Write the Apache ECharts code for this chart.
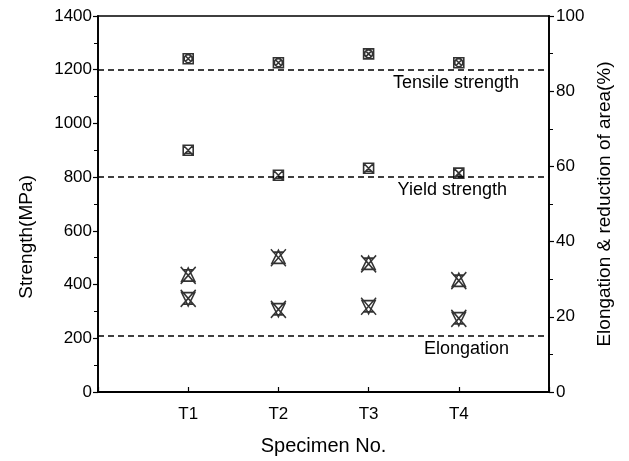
<!DOCTYPE html>
<html>
<head>
<meta charset="utf-8">
<script src="https://cdn.jsdelivr.net/npm/echarts@6/dist/echarts.min.js"></script>
<style>
  html, body { margin: 0; padding: 0; background: #fff; }
  #main { width: 629px; height: 461px; }
</style>
</head>
<body>
<div id="main"></div>
<script>
'use strict'

// specimen labels (x positions 1..4)
var specimens = ['T1', 'T2', 'T3', 'T4']
// strength, MPa (left axis)
var tensileStrength = [1241, 1226, 1259, 1226]
var yieldStrength = [900, 807, 833, 815]
// percent (right axis)
var reductionOfArea = [31.0, 35.7, 34.1, 29.6]
var elongation = [24.9, 22.0, 22.8, 19.6]
// reference (dashed) levels
var tensileRef = 1200
var yieldRef = 800
var elongationRef = 15

var leftTicks = [0, 200, 400, 600, 800, 1000, 1200, 1400]
var rightTicks = [0, 20, 40, 60, 80, 100]

function toPoints(arr) {
	return arr.map(function (v, i) { return [i + 1, v] })
}

var FONT = '"Liberation Sans", Arial, sans-serif'

// marker shapes
var symTensile = 'path://M0 0L10 0L10 10L0 10Z M5 1A4 4 0 1 1 4.99 1Z M2 2L8 8 M8 2L2 8'
var symYield = 'path://M0 0L10 0L10 10L0 10Z M1 1L9 9 M9 1L1 9 M2 8L8 8L5 5Z'
var symUpper = 'path://M0 0L16 18 M16 0L0 18 M8 1L15 15L1 15Z M2 3L14 3'
var symLower = 'path://M0 0L16 18 M16 0L0 18 M1 3L15 3L8 17Z M2 15L14 15'

var markerStyle = { color: 'rgba(0,0,0,0)', borderColor: '#000', borderWidth: 1.6 }

function refLabel(text, padRight) {
	return {
		show: true,
		formatter: text,
		position: 'insideEndBottom',
		distance: 4,
		padding: [0, padRight, 0, 0],
		color: '#000',
		fontFamily: FONT,
		fontSize: 18
	}
}

var myChart = echarts.init(document.getElementById('main'))
var option = {
	backgroundColor: '#fff',
	animation: false,
	grid: { left: 98, right: 80, top: 16, bottom: 67, show: true, borderColor: '#000', borderWidth: 1.5 },
	xAxis: {
		type: 'value', min: 0, max: 5, interval: 1,
		name: 'Specimen No.', nameLocation: 'middle', nameGap: 44,
		nameTextStyle: { fontFamily: FONT, fontSize: 20, color: '#000' },
		axisLine: { lineStyle: { color: '#000', width: 1.8 } },
		axisTick: { inside: true, length: 5, lineStyle: { color: '#000', width: 1.2 } },
		axisLabel: {
			margin: 14, fontFamily: FONT, fontSize: 17, color: '#000',
			formatter: function (v) { return specimens[v - 1] || '' }
		},
		splitLine: { show: false }
	},
	yAxis: [{
		type: 'value', min: leftTicks[0], max: leftTicks[leftTicks.length - 1], interval: 200,
		name: 'Strength(MPa)', nameLocation: 'middle', nameGap: 62, nameRotate: 90,
		nameTextStyle: { fontFamily: FONT, fontSize: 19, color: '#000', padding: [0, 66, 0, 0] },
		axisLine: { show: true, lineStyle: { color: '#000', width: 1.8 } },
		axisTick: { length: 5, lineStyle: { color: '#000', width: 1.2 } },
		minorTick: { show: true, splitNumber: 2, length: 4, lineStyle: { color: '#000' } },
		axisLabel: { margin: 6, fontFamily: FONT, fontSize: 17, color: '#000', formatter: function (v) { return String(v) } },
		splitLine: { show: false }
	}, {
		type: 'value', position: 'right', min: rightTicks[0], max: rightTicks[rightTicks.length - 1], interval: 20,
		name: 'Elongation & reduction of area(%)', nameLocation: 'middle', nameGap: 42, nameRotate: 90,
		nameTextStyle: { fontFamily: FONT, fontSize: 19, color: '#000' },
		axisLine: { show: true, lineStyle: { color: '#000', width: 1.8 } },
		axisTick: { length: 5, lineStyle: { color: '#000', width: 1.2 } },
		minorTick: { show: true, splitNumber: 2, length: 4, lineStyle: { color: '#000' } },
		axisLabel: { margin: 7, fontFamily: FONT, fontSize: 17, color: '#000', formatter: function (v) { return String(v) } },
		splitLine: { show: false }
	}],
	series: [{
		name: 'Tensile strength', type: 'scatter', yAxisIndex: 0,
		symbol: symTensile, symbolSize: [10, 10], itemStyle: markerStyle,
		data: toPoints(tensileStrength),
		markLine: {
			silent: true, symbol: 'none',
			lineStyle: { color: '#000', type: [6, 4], width: 1.6 },
			data: [
				{ yAxis: tensileRef, label: refLabel('Tensile strength', 26) },
				{ yAxis: yieldRef, label: refLabel('Yield strength', 38) }
			]
		}
	}, {
		name: 'Yield strength', type: 'scatter', yAxisIndex: 0,
		symbol: symYield, symbolSize: [10, 10], itemStyle: markerStyle,
		data: toPoints(yieldStrength)
	}, {
		name: 'Reduction of area', type: 'scatter', yAxisIndex: 1,
		symbol: symUpper, symbolSize: [15, 17], itemStyle: markerStyle,
		data: toPoints(reductionOfArea)
	}, {
		name: 'Elongation', type: 'scatter', yAxisIndex: 1,
		symbol: symLower, symbolSize: [15, 17], itemStyle: markerStyle,
		data: toPoints(elongation),
		markLine: {
			silent: true, symbol: 'none',
			lineStyle: { color: '#000', type: [6, 4], width: 1.6 },
			data: [
				{ yAxis: elongationRef, label: refLabel('Elongation', 36) }
			]
		}
	}]
}
myChart.setOption(option)
window.onresize = myChart.resize
</script>
</body>
</html>
